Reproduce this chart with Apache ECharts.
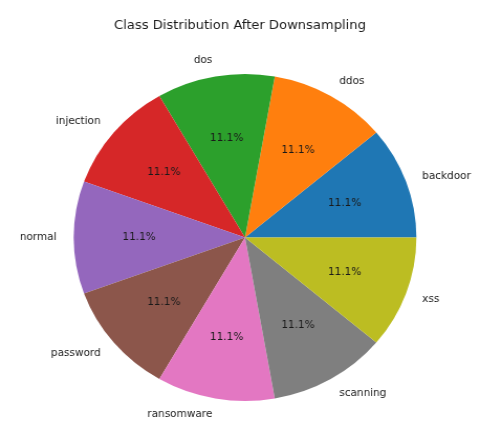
<!DOCTYPE html>
<html>
<head>
<meta charset="utf-8">
<script src="https://cdn.jsdelivr.net/npm/echarts@6/dist/echarts.min.js"></script>
<style>
  html, body { margin: 0; padding: 0; background: #fff; overflow: hidden; }
  /* the reference image is a bit wider than tall, so the whole chart is stretched horizontally */
  #chart { width: 458px; height: 427px; transform: scaleX(1.048); transform-origin: 0 0; }
</style>
</head>
<body>
<div id="chart"></div>
<script>
// class names, counter-clockwise from 3 o'clock
const categories = ['backdoor', 'ddos', 'dos', 'injection', 'normal', 'password', 'ransomware', 'scanning', 'xss'];
// share of each class (%), all equal after downsampling
const shares = [11.1, 11.1, 11.1, 11.1, 11.1, 11.1, 11.1, 11.1, 11.1];
const colors = ['#1f77b4', '#ff7f0e', '#2ca02c', '#d62728', '#9467bd', '#8c564b', '#e377c2', '#7f7f7f', '#bcbd22'];

const R = 163.5;            // pie radius in px
const center = [233.8, 237.5];
const font = 'DejaVu Sans';

const pieData = categories.map((name, i) => ({ name: name, value: shares[i] }));

const chart = echarts.init(document.getElementById('chart'));

const option = {
  animation: false,
  color: colors,
  title: {
    text: 'Class Distribution After Downsampling',
    left: 'center',
    top: 14,
    textStyle: { fontFamily: font, fontSize: 12.5, fontWeight: 'normal', color: '#1a1a1a' }
  },
  series: [
    {
      // slices + class names at 1.1 * R
      type: 'pie',
      center: center,
      radius: [0, R],
      startAngle: 0,
      clockwise: false,
      avoidLabelOverlap: false,
      silent: true,
      data: pieData,
      itemStyle: { borderWidth: 0 },
      label: {
        show: true,
        position: 'outside',
        formatter: '{b}',
        fontFamily: font,
        fontSize: 10,
        color: '#1a1a1a',
        distanceToLabelLine: 0,
        bleedMargin: 0
      },
      labelLine: { show: false, length: R * 0.1, length2: 0 }
    },
    {
      // transparent ring so the inside labels land at 0.6 * R
      type: 'pie',
      center: center,
      radius: [R * 0.2, R],
      startAngle: 0,
      clockwise: false,
      avoidLabelOverlap: false,
      silent: true,
      data: pieData,
      itemStyle: { color: 'rgba(0,0,0,0)', borderWidth: 0 },
      label: {
        show: true,
        position: 'inside',
        formatter: p => p.percent.toFixed(1) + '%',
        fontFamily: font,
        fontSize: 10,
        color: '#1a1a1a'
      },
      labelLine: { show: false }
    }
  ]
};

chart.setOption(option);
</script>
</body>
</html>
